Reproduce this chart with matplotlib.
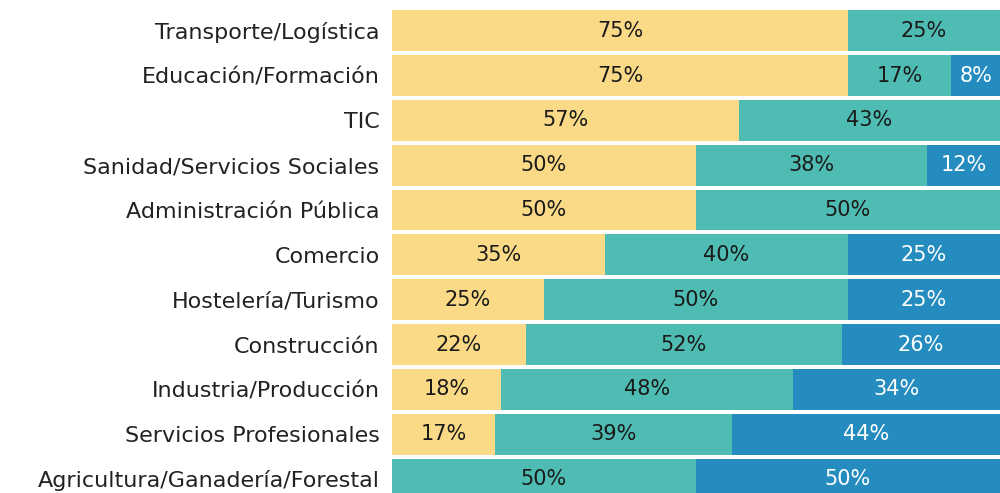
import matplotlib
matplotlib.use("Agg")
import matplotlib.pyplot as plt
import numpy as np

# sectors, top to bottom
sectores = [
    "Transporte/Logística",
    "Educación/Formación",
    "TIC",
    "Sanidad/Servicios Sociales",
    "Administración Pública",
    "Comercio",
    "Hostelería/Turismo",
    "Construcción",
    "Industria/Producción",
    "Servicios Profesionales",
    "Agricultura/Ganadería/Forestal",
]
amarillo = [75, 75, 57, 50, 50, 35, 25, 22, 18, 17, 0]
verde = [25, 17, 43, 38, 50, 40, 50, 52, 48, 39, 50]
azul = [0, 8, 0, 12, 0, 25, 25, 26, 34, 44, 50]

series = [amarillo, verde, azul]
colores = ["#FADA87", "#4EBCB2", "#258CBF"]
color_texto = ["#1a1a1a", "#1a1a1a", "#ffffff"]

fig = plt.figure(figsize=(10, 4.93), dpi=100)
ax = fig.add_axes([0.392, -0.017, 0.608, 1.0])

y = np.arange(len(sectores))
izq = np.zeros(len(sectores))
for vals, col, tc in zip(series, colores, color_texto):
    vals = np.array(vals, dtype=float)
    ax.barh(y, vals, left=izq, height=0.91, color=col, linewidth=0)
    for yi, l, v in zip(y, izq, vals):
        if v > 0:
            ax.text(l + v / 2, yi, f"{int(v)}%", ha="center", va="center",
                    fontsize=15, color=tc)
    izq += vals

ax.set_xlim(0, 100)
ax.set_ylim(len(sectores) - 0.5, -0.5)
ax.set_yticks(y)
ax.set_yticklabels(sectores, fontsize=16, color="#222222")
ax.tick_params(axis="y", length=0, pad=9)
ax.set_xticks([])
for s in ax.spines.values():
    s.set_visible(False)

fig.savefig("out.png", dpi=100)
